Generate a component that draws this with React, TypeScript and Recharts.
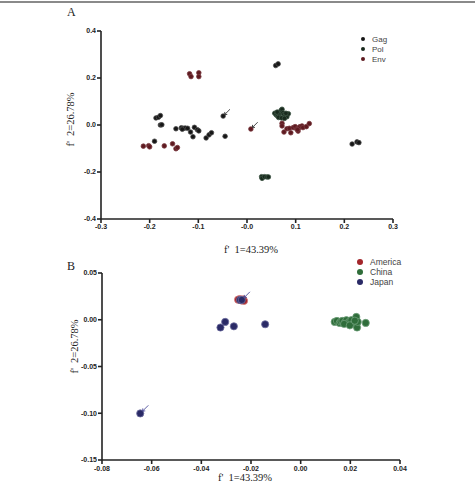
import React from "react";
import { ScatterChart, Scatter, XAxis, YAxis } from "recharts";

// Panel A: f'1 / f'2 scores per gene
const gagPoints: [number, number][] = [
  [-0.187, 0.03], [-0.182, 0.033], [-0.178, 0.04], [-0.178, 0.0], [-0.175, 0.001],
  [-0.19, -0.069], [-0.146, -0.016], [-0.135, -0.012], [-0.131, -0.014], [-0.127, -0.013],
  [-0.133, -0.018], [-0.122, -0.014], [-0.116, -0.03], [-0.111, -0.05], [-0.108, -0.01],
  [-0.102, -0.02], [-0.099, -0.025], [-0.084, -0.055], [-0.078, -0.042], [-0.073, -0.033],
  [-0.045, -0.048], [0.059, 0.253], [0.064, 0.26], [0.216, -0.081], [0.226, -0.072],
  [0.23, -0.075],
];
const gagMarked: [number, number][] = [[-0.049, 0.038]];

const polPoints: [number, number][] = [
  [0.057, 0.05], [0.06, 0.043], [0.063, 0.038], [0.066, 0.045], [0.068, 0.055],
  [0.07, 0.062], [0.072, 0.067], [0.074, 0.052], [0.076, 0.045], [0.079, 0.04],
  [0.082, 0.035], [0.085, 0.048], [0.065, 0.032], [0.071, 0.03], [0.077, 0.028],
  [0.08, 0.05], [0.062, 0.055],
  [0.03, -0.22], [0.031, -0.227], [0.036, -0.22], [0.041, -0.221], [0.044, -0.221],
];

const envPoints: [number, number][] = [
  [-0.213, -0.09], [-0.202, -0.088], [-0.2, -0.093], [-0.17, -0.089], [-0.153, -0.08],
  [-0.146, -0.101], [-0.143, -0.096], [-0.118, 0.218], [-0.115, 0.206], [-0.099, 0.222],
  [-0.099, 0.206], [0.072, 0.007], [0.072, -0.004], [0.076, -0.03], [0.082, -0.016],
  [0.087, -0.014], [0.09, -0.033], [0.095, -0.011], [0.099, -0.007], [0.102, -0.017],
  [0.105, -0.026], [0.107, -0.011], [0.109, -0.007], [0.113, -0.004], [0.115, -0.011],
  [0.122, -0.007], [0.128, 0.006], [0.104, -0.02],
];
const envMarked: [number, number][] = [[0.008, -0.017]];

const xTicksA = [-0.3, -0.2, -0.1, 0, 0.1, 0.2, 0.3];
const xLabelsA = ["-0.3", "-0.2", "-0.1", "-0.0", "0.1", "0.2", "0.3"];
const yTicksA = [-0.4, -0.2, 0, 0.2, 0.4];
const yLabelsA = ["-0.4", "-0.2", "0.0", "0.2", "0.4"];

// Panel B: scores per country
const americaPoints: [number, number][] = [
  [-0.0245, 0.0222], [-0.0238, 0.0205], [-0.0232, 0.0218], [-0.0252, 0.0215], [-0.0228, 0.0202],
];
const japanPoints: [number, number][] = [
  [-0.0323, -0.0083], [-0.0304, -0.0023], [-0.0269, -0.007], [-0.0143, -0.0048],
  [-0.0244, 0.0212],
];
const japanMarked: [number, number][] = [[-0.0646, -0.1002], [-0.0237, 0.0212]];
const chinaPoints: [number, number][] = [
  [0.0137, -0.0023], [0.0146, -0.0013], [0.0157, -0.0034], [0.0162, -0.002], [0.0168, -0.0013],
  [0.0177, -0.0034], [0.0184, -0.0005], [0.0195, -0.0023], [0.0204, -0.0005], [0.0213, -0.0045],
  [0.0224, 0.003], [0.0227, -0.0083], [0.023, -0.0023], [0.0262, -0.0034], [0.0175, -0.0045],
  [0.0198, -0.006], [0.0218, -0.001],
];

const xTicksB = [-0.08, -0.06, -0.04, -0.02, 0, 0.02, 0.04];
const xLabelsB = ["-0.08", "-0.06", "-0.04", "-0.02", "0.00", "0.02", "0.04"];
const yTicksB = [-0.15, -0.1, -0.05, 0, 0.05];
const yLabelsB = ["-0.15", "-0.10", "-0.05", "0.00", "0.05"];

const COLORS = {
  gag: "#161616",
  pol: "#18291d",
  env: "#5e1a20",
  america: "#a3262b",
  china: "#2f6d3a",
  japan: "#2a2a66",
};

const toRows = (pts: [number, number][], arrow = false) =>
  pts.map(([x, y]) => ({ x, y, arrow }));

const labelFor = (ticks: number[], labels: string[]) => (v: number) => {
  const i = ticks.findIndex((t) => Math.abs(t - v) < 1e-9);
  return i >= 0 ? labels[i] : String(v);
};

const tickStyle = {
  fontSize: 7,
  fontWeight: "bold" as const,
  fill: "#222",
  fontFamily: "Liberation Sans, Arial, sans-serif",
};

const axisLine = { stroke: "#222", strokeWidth: 1.6 };

function makeDot(r: number, color: string, edge: string, arrowColor: string) {
  return (props: any) => {
    const { cx, cy, payload } = props;
    if (cx == null || cy == null) return <g />;
    return (
      <g>
        <circle cx={cx} cy={cy} r={r} fill={color} stroke={edge} strokeWidth={0.8} />
        {payload && payload.arrow && (
          <g stroke={arrowColor} strokeWidth={0.9}>
            <line x1={cx + r + 4.5} y1={cy - r - 4.5} x2={cx + r * 0.7} y2={cy - r * 0.7} />
            <line x1={cx + r * 0.7} y1={cy - r * 0.7} x2={cx + r * 0.7 + 2.5} y2={cy - r * 0.7} />
            <line x1={cx + r * 0.7} y1={cy - r * 0.7} x2={cx + r * 0.7} y2={cy - r * 0.7 - 2.5} />
          </g>
        )}
      </g>
    );
  };
}

const serif = "'Liberation Serif', 'Times New Roman', serif";
const sans = "'Liberation Sans', Arial, sans-serif";

function LegendRows({ items, top, left, size, dot }: { items: [string, string][]; top: number; left: number; size: number; dot: number }) {
  return (
    <div style={{ position: "absolute", top, left, fontFamily: sans, fontSize: size, color: "#444" }}>
      {items.map(([name, color]) => (
        <div key={name} style={{ display: "flex", alignItems: "center", height: 10 }}>
          <span
            style={{
              display: "inline-block",
              width: dot,
              height: dot,
              borderRadius: "50%",
              background: color,
              marginRight: 7,
            }}
          />
          {name}
        </div>
      ))}
    </div>
  );
}

export default function App() {
  const fmtXA = labelFor(xTicksA, xLabelsA);
  const fmtYA = labelFor(yTicksA, yLabelsA);
  const fmtXB = labelFor(xTicksB, xLabelsB);
  const fmtYB = labelFor(yTicksB, yLabelsB);

  return (
    <div style={{ position: "absolute", left: 0, top: 0, width: 475, height: 485, background: "#fff", overflow: "hidden" }}>
      <div style={{ position: "absolute", left: 0, top: 1, width: 475, height: 2, background: "#8a8a8a" }} />

      {/* Panel A */}
      <div style={{ position: "absolute", left: 0, top: 0 }}>
        <ScatterChart width={475} height={245} margin={{ top: 31, right: 82, bottom: 6, left: 61 }}>
          <XAxis
            type="number"
            dataKey="x"
            domain={[-0.3, 0.3]}
            ticks={xTicksA}
            tickFormatter={fmtXA}
            tick={tickStyle}
            tickSize={4}
            tickMargin={1}
            height={20}
            axisLine={axisLine}
            tickLine={axisLine}
            allowDataOverflow
          />
          <YAxis
            type="number"
            dataKey="y"
            domain={[-0.4, 0.4]}
            ticks={yTicksA}
            tickFormatter={fmtYA}
            tick={tickStyle}
            tickSize={4}
            tickMargin={1}
            width={40}
            axisLine={axisLine}
            tickLine={axisLine}
            allowDataOverflow
          />
          <Scatter name="Gag" data={toRows(gagPoints)} shape={makeDot(2.3, COLORS.gag, "#4a4a4a", "#333")} isAnimationActive={false} />
          <Scatter name="Gag marked" data={toRows(gagMarked, true)} shape={makeDot(2.3, COLORS.gag, "#4a4a4a", "#333")} isAnimationActive={false} />
          <Scatter name="Pol" data={toRows(polPoints)} shape={makeDot(2.3, COLORS.pol, "#3c5444", "#333")} isAnimationActive={false} />
          <Scatter name="Env" data={toRows(envPoints)} shape={makeDot(2.3, COLORS.env, "#7a3a40", "#333")} isAnimationActive={false} />
          <Scatter name="Env marked" data={toRows(envMarked, true)} shape={makeDot(2.3, COLORS.env, "#7a3a40", "#333")} isAnimationActive={false} />
        </ScatterChart>
      </div>
      <div style={{ position: "absolute", left: 67, top: 5, fontFamily: serif, fontSize: 12, color: "#222" }}>A</div>
      <div style={{ position: "absolute", left: 211, top: 244, width: 80, textAlign: "center", fontFamily: serif, fontSize: 10.5, color: "#222", whiteSpace: "nowrap" }}>
        f'&nbsp;&nbsp;1=43.39%
      </div>
      <div
        style={{
          position: "absolute",
          left: 30,
          top: 114,
          width: 80,
          textAlign: "center",
          fontFamily: serif,
          fontSize: 10.5,
          color: "#222",
          whiteSpace: "nowrap",
          transform: "rotate(-90deg)",
        }}
      >
        f'&nbsp;&nbsp;2=26.78%
      </div>
      <LegendRows
        items={[["Gag", COLORS.gag], ["Pol", COLORS.pol], ["Env", COLORS.env]]}
        top={34}
        left={361}
        size={8}
        dot={4}
      />

      {/* Panel B */}
      <div style={{ position: "absolute", left: 0, top: 250 }}>
        <ScatterChart width={475} height={235} margin={{ top: 23, right: 75, bottom: 7, left: 62 }}>
          <XAxis
            type="number"
            dataKey="x"
            domain={[-0.08, 0.04]}
            ticks={xTicksB}
            tickFormatter={fmtXB}
            tick={tickStyle}
            tickSize={4}
            tickMargin={2}
            height={18}
            axisLine={axisLine}
            tickLine={axisLine}
            allowDataOverflow
          />
          <YAxis
            type="number"
            dataKey="y"
            domain={[-0.15, 0.05]}
            ticks={yTicksB}
            tickFormatter={fmtYB}
            tick={tickStyle}
            tickSize={4}
            tickMargin={1}
            width={40}
            axisLine={axisLine}
            tickLine={axisLine}
            allowDataOverflow
          />
          <Scatter name="America" data={toRows(americaPoints)} shape={makeDot(3.6, COLORS.america, "#d07a7d", "#2a2a66")} isAnimationActive={false} />
          <Scatter name="China" data={toRows(chinaPoints)} shape={makeDot(3.6, COLORS.china, "#6fa07a", "#2a2a66")} isAnimationActive={false} />
          <Scatter name="Japan" data={toRows(japanPoints)} shape={makeDot(3.6, COLORS.japan, "#6f6fa0", "#2a2a66")} isAnimationActive={false} />
          <Scatter name="Japan marked" data={toRows(japanMarked, true)} shape={makeDot(3.6, COLORS.japan, "#6f6fa0", "#4a4a99")} isAnimationActive={false} />
        </ScatterChart>
      </div>
      <div style={{ position: "absolute", left: 67, top: 259, fontFamily: serif, fontSize: 12, color: "#222" }}>B</div>
      <div style={{ position: "absolute", left: 205, top: 472, width: 80, textAlign: "center", fontFamily: serif, fontSize: 10.5, color: "#222", whiteSpace: "nowrap" }}>
        f'&nbsp;&nbsp;1=43.39%
      </div>
      <div
        style={{
          position: "absolute",
          left: 34,
          top: 341,
          width: 80,
          textAlign: "center",
          fontFamily: serif,
          fontSize: 10.5,
          color: "#222",
          whiteSpace: "nowrap",
          transform: "rotate(-90deg)",
        }}
      >
        f'&nbsp;&nbsp;2=26.78%
      </div>
      <LegendRows
        items={[["America", COLORS.america], ["China", COLORS.china], ["Japan", COLORS.japan]]}
        top={257}
        left={357}
        size={8.5}
        dot={6}
      />
    </div>
  );
}
